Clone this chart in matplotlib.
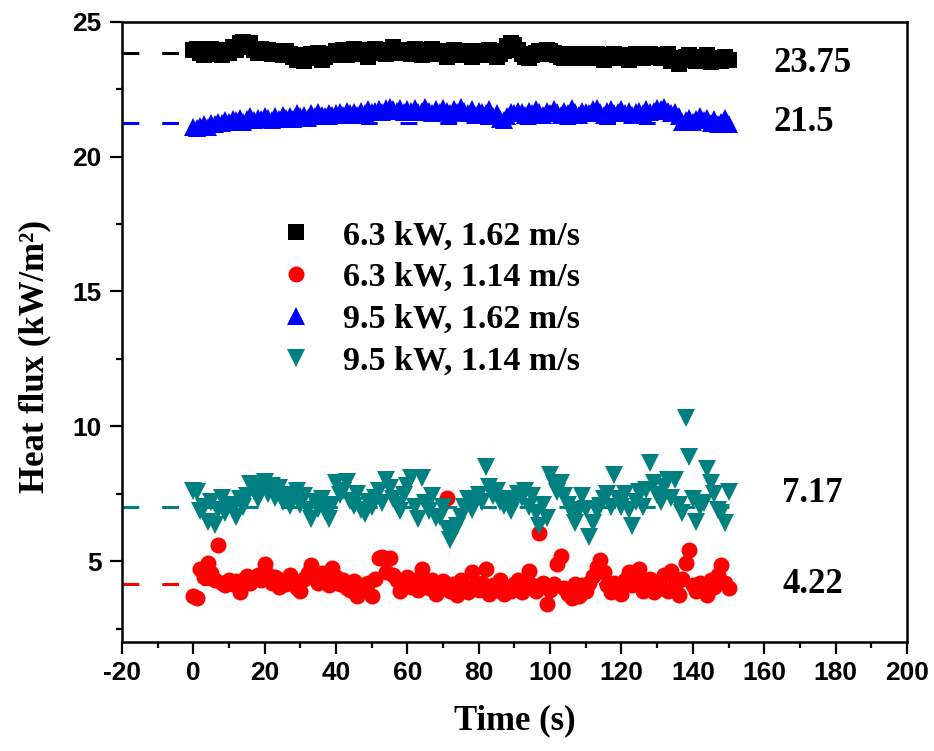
import numpy as np
import matplotlib
matplotlib.use("Agg")
from matplotlib import pyplot as plt
from matplotlib.ticker import MultipleLocator

plt.rcParams["axes.unicode_minus"] = False

# time axis, one reading per second
time_s = list(range(0, 151))

q_63_162 = [
    23.95, 24.0, 23.85, 23.75, 23.9, 24.0, 23.8, 23.95, 23.75, 23.9,
    23.85, 24.05, 23.95, 24.2, 24.25, 24.1, 24.2, 23.95, 23.85, 24.0,
    23.9, 23.95, 23.8, 23.9, 23.85, 23.75, 23.9, 23.8, 23.7, 23.6,
    23.75, 23.55, 23.65, 23.8, 23.7, 23.85, 23.6, 23.7, 23.8, 23.75,
    23.9, 23.85, 23.95, 23.75, 23.9, 24.0, 23.8, 23.95, 23.85, 23.7,
    23.9, 24.0, 23.85, 23.95, 23.8, 23.9, 24.05, 23.95, 23.85, 23.9,
    23.95, 23.8, 24.0, 23.9, 23.75, 23.85, 23.95, 24.0, 23.8, 23.9,
    23.85, 23.7, 23.9, 23.95, 23.75, 23.85, 23.9, 23.8, 23.7, 23.85,
    23.9, 23.8, 23.75, 23.95, 23.85, 23.7, 23.8, 23.9, 24.1, 24.2,
    24.15, 23.95, 23.8, 23.7, 23.65, 23.75, 23.85, 23.9, 23.8, 23.95,
    23.9, 23.85, 23.75, 23.7, 23.65, 23.8, 23.75, 23.65, 23.7, 23.8,
    23.75, 23.65, 23.7, 23.8, 23.7, 23.6, 23.75, 23.7, 23.8, 23.65,
    23.7, 23.75, 23.6, 23.7, 23.8, 23.7, 23.65, 23.75, 23.8, 23.7,
    23.75, 23.65, 23.7, 23.8, 23.55, 23.65, 23.45, 23.6, 23.7, 23.75,
    23.65, 23.55, 23.7, 23.6, 23.75, 23.5, 23.65, 23.6, 23.55, 23.7, 23.6,
]

q_63_114 = [
    3.7, 3.65, 4.7, 4.4, 4.95, 4.55, 4.3, 5.6, 4.2, 4.1,
    4.3, 4.15, 4.25, 3.85, 4.3, 4.45, 4.2, 4.35, 4.5, 4.3,
    4.9, 4.5, 4.2, 4.4, 4.05, 4.3, 4.15, 4.5, 4.25, 4.0,
    3.9, 4.35, 4.55, 4.85, 4.4, 4.2, 4.55, 4.3, 4.1, 4.75,
    4.4, 4.15, 4.3, 4.0, 3.95, 4.25, 3.7, 4.1, 3.9, 4.2,
    3.7, 4.35, 5.1, 5.15, 4.6, 5.1, 4.5, 4.3, 3.9, 4.2,
    4.4, 4.05, 4.3, 3.95, 4.7, 4.15, 4.0, 4.3, 3.8, 4.1,
    4.25, 7.35, 3.9, 4.15, 3.75, 4.3, 4.0, 3.85, 4.6, 4.1,
    3.95, 4.2, 4.7, 3.8, 4.1, 3.95, 4.3, 3.8, 4.05, 3.9,
    4.15, 4.3, 3.85, 4.2, 4.65, 4.1, 3.9, 6.05, 4.2, 3.4,
    3.95, 4.15, 4.9, 5.2, 4.0, 3.8, 3.65, 4.15, 3.7, 4.1,
    3.9, 4.2, 4.45, 4.8, 5.05, 4.6, 4.1, 3.85, 4.2, 3.95,
    3.8, 4.3, 4.6, 4.1, 4.45, 4.7, 3.9, 4.2, 4.35, 3.85,
    4.15, 4.0, 4.5, 3.9, 4.65, 4.1, 3.75, 4.35, 4.95, 5.4,
    4.1, 3.9, 4.2, 4.0, 3.75, 4.3, 4.05, 4.5, 4.85, 4.2, 4.0,
]

q_95_162 = [
    21.1, 21.05, 21.15, 21.2, 21.1, 21.25, 21.2, 21.3, 21.25, 21.35,
    21.3, 21.4, 21.35, 21.45, 21.3, 21.4, 21.5, 21.35, 21.45, 21.4,
    21.5, 21.45, 21.35, 21.5, 21.4, 21.55, 21.45, 21.5, 21.4, 21.6,
    21.5, 21.55, 21.45, 21.6, 21.5, 21.65, 21.55, 21.5, 21.6, 21.55,
    21.6, 21.65, 21.55, 21.7, 21.6, 21.65, 21.55, 21.7, 21.6, 21.75,
    21.65, 21.7, 21.75, 21.65, 21.8, 21.85, 21.75, 21.7, 21.8, 21.65,
    21.75, 21.7, 21.8, 21.65, 21.7, 21.85, 21.7, 21.6, 21.75, 21.65,
    21.8, 21.7, 21.6, 21.75, 21.65, 21.85, 21.7, 21.6, 21.75, 21.55,
    21.7, 21.65, 21.6, 21.75, 21.5, 21.6, 21.4, 21.35, 21.5, 21.65,
    21.6, 21.7, 21.65, 21.55, 21.7, 21.6, 21.75, 21.65, 21.55, 21.7,
    21.6, 21.75, 21.65, 21.55, 21.7, 21.6, 21.8, 21.65, 21.55, 21.7,
    21.65, 21.6, 21.75, 21.8, 21.65, 21.55, 21.7, 21.75, 21.6, 21.65,
    21.75, 21.6, 21.7, 21.55, 21.65, 21.7, 21.6, 21.75, 21.65, 21.7,
    21.8, 21.75, 21.85, 21.7, 21.6, 21.65, 21.5, 21.3, 21.35, 21.45,
    21.3, 21.4, 21.5, 21.35, 21.45, 21.25, 21.4, 21.2, 21.3, 21.45, 21.2,
]

q_95_114 = [
    7.6, 7.55, 6.85, 7.0, 6.45, 7.2, 6.35, 6.9, 7.35, 6.8,
    7.1, 6.95, 6.65, 7.3, 7.0, 7.4, 7.85, 7.6, 7.3, 7.75,
    7.95, 7.5, 7.8, 7.35, 7.7, 7.2, 7.45, 7.05, 7.3, 7.6,
    7.1, 7.4, 6.9, 6.55, 7.2, 6.95, 7.3, 6.85, 6.55, 7.1,
    7.9, 7.45, 7.6, 7.95, 7.25, 7.05, 7.5, 6.9, 6.75, 7.2,
    7.0, 7.35, 7.6, 7.15, 8.0, 7.7, 7.3, 7.1, 6.85, 7.45,
    7.8, 8.1, 7.0, 6.55, 8.1, 7.15, 6.85, 7.4, 6.6, 6.65,
    7.0, 6.2, 5.8, 6.1, 6.3, 6.65, 7.0, 7.3, 6.9, 7.15,
    7.45, 7.2, 8.5, 7.75, 7.4, 7.6, 7.2, 7.05, 7.3, 6.85,
    7.25, 7.5, 7.35, 7.6, 7.0, 7.4, 6.8, 6.3, 7.1, 6.6,
    8.2, 7.85, 7.55, 7.9, 7.4, 7.1, 6.8, 6.42, 6.9, 7.4,
    6.95, 5.9, 6.4, 6.85, 7.05, 7.3, 7.5, 7.0, 8.2, 7.3,
    7.0, 7.5, 6.9, 6.3, 7.2, 7.55, 7.0, 7.65, 8.65, 7.9,
    7.45, 7.2, 7.75, 8.0, 7.35, 8.0, 7.1, 6.8, 10.3, 8.85,
    7.3, 6.45, 7.0, 7.15, 8.4, 7.9, 7.5, 6.9, 6.8, 6.4, 7.55,
]

labels = ["6.3 kW, 1.62 m/s", "6.3 kW, 1.14 m/s",
          "9.5 kW, 1.62 m/s", "9.5 kW, 1.14 m/s"]
colors = ["black", "#ff0000", "#0000ff", "#008080"]
markers = ["s", "o", "^", "v"]
msizes = [11, 11.5, 13, 13]
series = [q_63_162, q_63_114, q_95_162, q_95_114]

# averaged levels (dashed lines) and their printed values
mean_lines = [23.84, 4.16, 21.25, 7.0]
mean_text = ["23.75", "4.22", "21.5", "7.17"]
text_pos = [(162.5, 23.45), (165, 4.15), (162.5, 21.25), (165, 7.52)]

serif = "Liberation Serif"
sans = "Liberation Sans"

fig = plt.figure(figsize=(9.34, 7.51), dpi=100)
ax = fig.add_axes([0.1306, 0.145, 0.8404, 0.826])

for i in range(4):
    ax.plot([-20, 150], [mean_lines[i], mean_lines[i]], color=colors[i],
            lw=2.2, linestyle=(0, (5.5, 7.5)), zorder=1)

handles = []
for i in range(4):
    h, = ax.plot(time_s, series[i], linestyle="none", marker=markers[i],
                 ms=msizes[i], color=colors[i], mec=colors[i], mew=0,
                 label=labels[i], zorder=2)
    handles.append(h)

for i in range(4):
    ax.text(text_pos[i][0], text_pos[i][1], mean_text[i], ha="left",
            va="center", fontsize=25, fontweight="bold", family=serif)

ax.set_xlim(-20, 200)
ax.set_ylim(2, 25)
ax.xaxis.set_major_locator(MultipleLocator(20))
ax.xaxis.set_minor_locator(MultipleLocator(10))
ax.yaxis.set_major_locator(MultipleLocator(5))
ax.yaxis.set_minor_locator(MultipleLocator(2.5))
ax.tick_params(which="major", length=8.5, width=1.6, direction="out")
ax.tick_params(which="minor", length=4.5, width=1.6, direction="out")
ax.tick_params(axis="x", pad=5)
ax.tick_params(axis="y", pad=6)
for t in ax.get_xticklabels() + ax.get_yticklabels():
    t.set_family(sans)
    t.set_fontweight("bold")
    t.set_fontsize(19)
for s in ax.spines.values():
    s.set_linewidth(1.8)

ax.set_xlabel("Time (s)", fontsize=25, fontweight="bold", family=serif)
ax.set_ylabel("Heat flux (kW/m\u00b2)", fontsize=25,
              fontweight="bold", family=serif)
ax.xaxis.set_label_coords(0.5, -0.1)
ax.yaxis.set_label_coords(-0.09, 0.46)

ax.legend(handles=handles, loc="upper left", bbox_to_anchor=(0.204, 0.68),
          frameon=False, borderaxespad=0, borderpad=0, handlelength=0.8,
          handletextpad=0.98, labelspacing=0.32,
          prop={"family": serif, "weight": "bold", "size": 24.5})

fig.savefig("out.png", dpi=100)
